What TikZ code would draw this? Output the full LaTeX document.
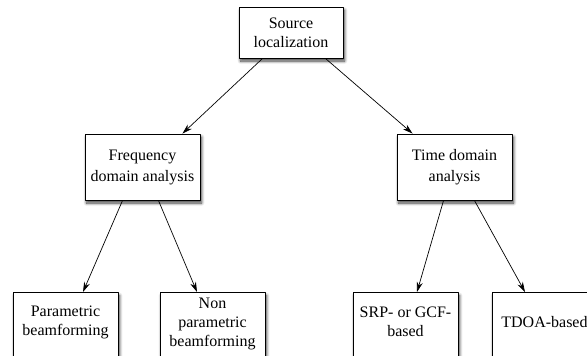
\documentclass[tikz,border=0pt]{standalone}
\usepackage{fontspec}
\setmainfont{Liberation Serif}
\usetikzlibrary{arrows.meta,shadows.blur}
\begin{document}
\begin{tikzpicture}[x=1pt, y=1pt, line join=round, line cap=round, >={Stealth[length=10pt,width=6pt]},
		box/.style={draw, line width=0.9pt, fill=white, inner sep=0pt, blur shadow={shadow xshift=1.5pt, shadow yshift=-3pt, shadow blur radius=3pt, shadow blur steps=8, shadow opacity=75}},
		lbl/.style={align=center, font=\fontsize{16}{19}\selectfont},
		link/.style={->, line width=0.7pt}]
				\useasboundingbox (0,0) rectangle (587,-356);
				\clip (0,0) rectangle (587,-356);
				% top and middle level
				\node[box,lbl,minimum width=104pt,minimum height=51pt] (src) at (291,-32.5) {Source\\localization};
				\node[box,lbl,minimum width=115pt,minimum height=66pt] (freq) at (142.5,-167) {Frequency\\[2pt]domain analysis};
				\node[box,lbl,minimum width=115pt,minimum height=66pt] (time) at (454.5,-167) {Time domain\\[2pt]analysis};
				% bottom level, cut by the page
				\node[box,anchor=north,minimum width=105pt,minimum height=90pt] (param) at (65.5,-292) {};
				\node[box,anchor=north,minimum width=105pt,minimum height=90pt] (nonparam) at (212.5,-292) {};
				\node[box,anchor=north,minimum width=105pt,minimum height=90pt] (srp) at (405.5,-292) {};
				\node[box,anchor=north,minimum width=105pt,minimum height=90pt] (tdoa) at (544.5,-292) {};
				\node[lbl] (paramtxt) at (65.5,-322) {Parametric\\beamforming};
				\node[lbl] (nonparamtxt) at (212.5,-324) {Non\\parametric\\beamforming};
				\node[lbl] (srptxt) at (405.5,-322) {SRP- or GCF-\\based};
				\node[lbl] (tdoatxt) at (544.5,-322) {TDOA-based};
				% arrows
				\draw[link] ([xshift=24pt]src.south west)--([xshift=-18pt]freq.north east);
				\draw[link] ([xshift=-18pt]src.south east)--([xshift=16pt]time.north west);
				\draw[link] ([xshift=38pt]freq.south west)--([xshift=17.5pt]param.north);
				\draw[link] ([xshift=-42pt]freq.south east)--([xshift=-15.5pt]nonparam.north);
				\draw[link] ([xshift=47pt]time.south west)--([xshift=11.5pt]srp.north);
				\draw[link] ([xshift=-38pt]time.south east)--([xshift=-19.5pt]tdoa.north);
		\end{tikzpicture}
\end{document}
